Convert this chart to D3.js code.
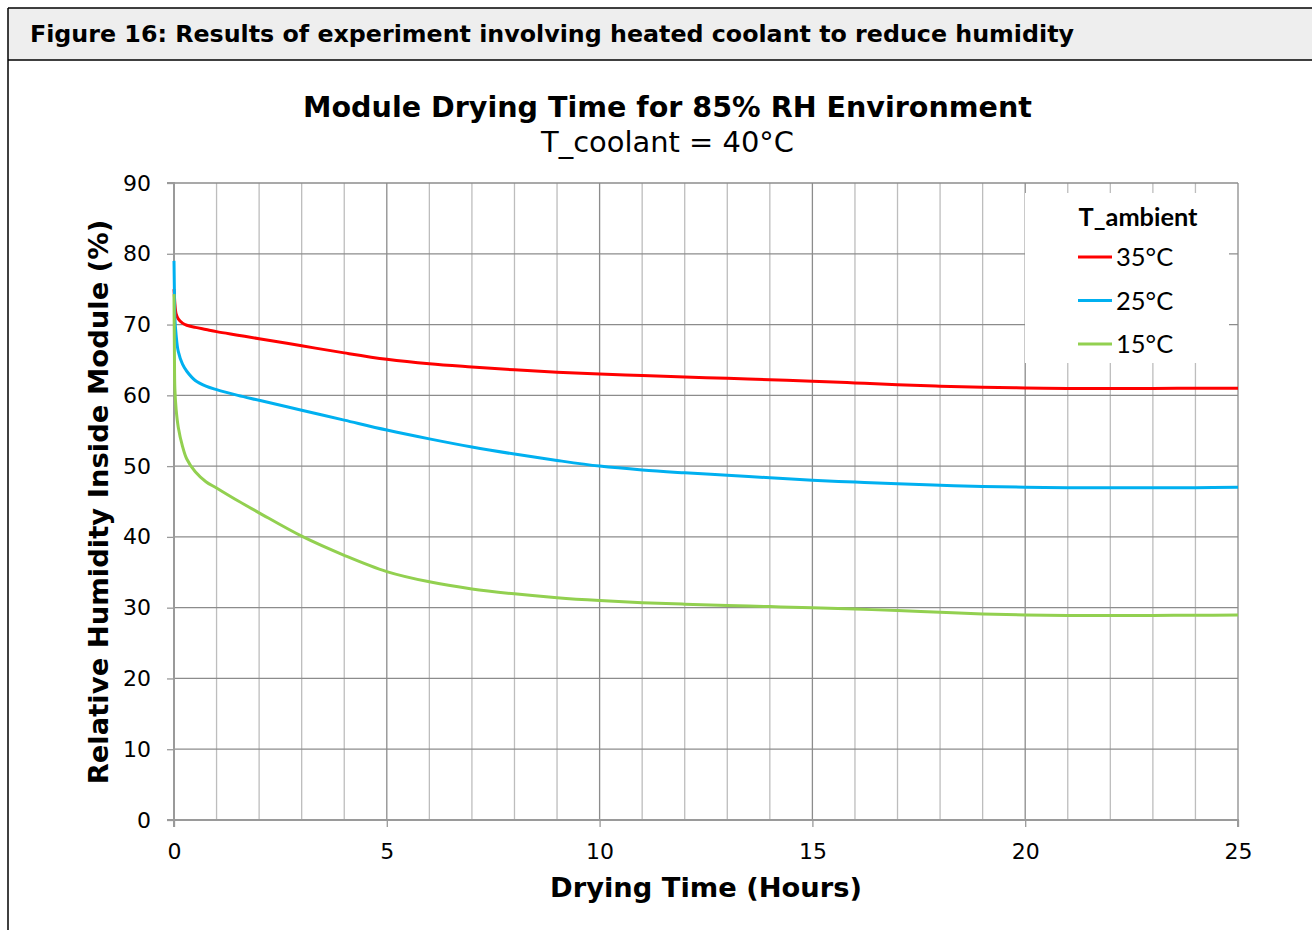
<!DOCTYPE html>
<html>
<head>
<meta charset="utf-8">
<title>Module Drying Time</title>
<script src="https://d3js.org/d3.v7.min.js"></script>
<style>
  body { margin: 0; background: #fff; }
  svg { display: block; }
</style>
</head>
<body>
<div id="chart"></div>
<script>
// data
var hours = [0, 0.01, 0.02, 0.05, 0.1, 0.2, 0.3, 0.5, 0.75, 1, 1.5, 2, 3, 4, 5, 6, 7, 8, 9, 10,
             11, 12, 13, 14, 15, 16, 17, 18, 19, 20, 21, 22, 23, 24, 25];
var rh35 = [75, 74, 73, 71.5, 70.8, 70.2, 69.9, 69.6, 69.3, 69.0, 68.5, 68.0, 67.0, 66.0, 65.1, 64.45, 64.0, 63.6, 63.25, 63.0,
            62.8, 62.6, 62.4, 62.2, 62.0, 61.75, 61.5, 61.3, 61.15, 61.05, 60.97, 60.95, 60.98, 61.0, 61.0];
var rh25 = [79, 74.5, 71, 68.5, 66.2, 64.4, 63.4, 62.1, 61.3, 60.8, 60.0, 59.3, 57.9, 56.5, 55.1, 53.85, 52.7, 51.7, 50.8, 50.0,
            49.45, 49.05, 48.7, 48.35, 48.0, 47.75, 47.5, 47.3, 47.12, 47.02, 46.96, 46.95, 46.95, 46.96, 47.0];
var rh15 = [74.3, 66, 61, 58, 55.5, 52.8, 51.0, 49.2, 47.8, 46.9, 45.1, 43.4, 40.1, 37.4, 35.1, 33.65, 32.65, 31.95, 31.4, 31.0,
            30.7, 30.5, 30.32, 30.15, 30.0, 29.8, 29.6, 29.35, 29.12, 28.97, 28.9, 28.9, 28.9, 28.93, 28.95];
var seriesNames = ["35°C", "25°C", "15°C"];
var seriesColors = ["#ff0000", "#00b0f0", "#92d050"];
var xTicks = [0, 5, 10, 15, 20, 25];
var yTicks = [0, 10, 20, 30, 40, 50, 60, 70, 80, 90];

var W = 1312, H = 930;
var svg = d3.select("#chart").append("svg")
    .attr("width", W).attr("height", H);

// scale a text's font size so it spans the given width
function fit(sel, target) {
  var fs = parseFloat(sel.attr("font-size"));
  var w = sel.node().getComputedTextLength();
  sel.attr("font-size", (fs * target / w).toFixed(2));
}

// figure caption band
svg.append("rect").attr("x", 8).attr("y", 8).attr("width", W).attr("height", 52)
    .attr("fill", "#eeeeee");
svg.append("line").attr("x1", 8).attr("x2", W).attr("y1", 8).attr("y2", 8)
    .attr("stroke", "#000").attr("stroke-width", 1.5);
svg.append("line").attr("x1", 8).attr("x2", W).attr("y1", 60).attr("y2", 60)
    .attr("stroke", "#000").attr("stroke-width", 1.5);
svg.append("line").attr("x1", 8).attr("x2", 8).attr("y1", 8).attr("y2", H)
    .attr("stroke", "#000").attr("stroke-width", 1.5);

var cap = svg.append("text").attr("x", 30).attr("y", 42)
    .attr("font-family", "DejaVu Sans").attr("font-weight", "bold").attr("font-size", 20)
    .text("Figure 16: Results of experiment involving heated coolant to reduce humidity");
fit(cap, 1044);

var x = d3.scaleLinear().domain([0, 25]).range([174, 1238]);
var y = d3.scaleLinear().domain([0, 90]).range([820, 183]);

// grid
var g = svg.append("g");
g.selectAll(".vminor").data(d3.range(1, 26)).enter().append("line")
    .attr("x1", function(d) { return x(d); }).attr("x2", function(d) { return x(d); })
    .attr("y1", y(0)).attr("y2", y(90))
    .attr("stroke", function(d) { return d % 5 === 0 ? "#8c8c8c" : "#bdbdbd"; })
    .attr("stroke-width", 1.3);
g.selectAll(".hgrid").data(yTicks.slice(1)).enter().append("line")
    .attr("x1", x(0)).attr("x2", x(25))
    .attr("y1", function(d) { return y(d); }).attr("y2", function(d) { return y(d); })
    .attr("stroke", "#8c8c8c").attr("stroke-width", 1.3);

// axes
var xAxis = svg.append("g").attr("transform", "translate(0," + y(0) + ")")
    .call(d3.axisBottom(x).tickValues(xTicks).tickSize(7).tickPadding(16));
var yAxis = svg.append("g").attr("transform", "translate(" + x(0) + ",0)")
    .call(d3.axisLeft(y).tickValues(yTicks).tickSize(7).tickPadding(16));
[xAxis, yAxis].forEach(function(a) {
  a.select(".domain").attr("stroke", "#9a9a9a").attr("stroke-width", 2);
  a.selectAll(".tick line").attr("stroke", "#9a9a9a").attr("stroke-width", 1.3);
  a.selectAll("text").attr("font-family", "DejaVu Sans").attr("font-size", 22)
      .attr("fill", "#000");
});
yAxis.select(".domain").attr("d", "M-7," + y(0) + "H0V" + y(90) + "H-7");
xAxis.select(".domain").attr("d", "M0,7V0H" + (x(25) - x(0)) + "V7")
    .attr("transform", "translate(" + x(0) + ",0)");

// series
var allSeries = [rh35, rh25, rh15];
var line = d3.line()
    .x(function(d, i) { return x(hours[i]); })
    .y(function(d) { return y(d); })
    .curve(d3.curveCatmullRom.alpha(0.5));
svg.selectAll(".series").data(allSeries).enter().append("path")
    .attr("d", line)
    .attr("fill", "none")
    .attr("stroke", function(d, i) { return seriesColors[i]; })
    .attr("stroke-width", 3)
    .attr("stroke-linejoin", "round");

// legend
svg.append("rect").attr("x", 1025).attr("y", 193).attr("width", 204).attr("height", 170)
    .attr("fill", "#fff");
var lt = svg.append("text").attr("x", 1138).attr("y", 226).attr("text-anchor", "middle")
    .attr("font-family", "Lato").attr("font-weight", "bold").attr("font-size", 24)
    .text("T_ambient");
fit(lt, 119);
var leg = svg.selectAll(".leg").data(seriesNames).enter().append("g")
    .attr("transform", function(d, i) { return "translate(0," + (257 + i * 43.5) + ")"; });
leg.append("line").attr("x1", 1078).attr("x2", 1112)
    .attr("stroke", function(d, i) { return seriesColors[i]; }).attr("stroke-width", 3);
leg.append("text").attr("x", 1116).attr("y", 9)
    .attr("font-family", "Lato").attr("font-size", 25.5)
    .text(function(d) { return d; });

// titles
var t1 = svg.append("text").attr("x", 667.5).attr("y", 117).attr("text-anchor", "middle")
    .attr("font-family", "DejaVu Sans").attr("font-weight", "bold").attr("font-size", 27)
    .text("Module Drying Time for 85% RH Environment");
fit(t1, 729);
var t2 = svg.append("text").attr("x", 667.5).attr("y", 152).attr("text-anchor", "middle")
    .attr("font-family", "DejaVu Sans").attr("font-size", 27)
    .text("T_coolant = 40°C");
fit(t2, 253);
var xl = svg.append("text").attr("x", 706).attr("y", 897).attr("text-anchor", "middle")
    .attr("font-family", "DejaVu Sans").attr("font-weight", "bold").attr("font-size", 26)
    .text("Drying Time (Hours)");
fit(xl, 312);
var yl = svg.append("text").attr("transform", "translate(108,502) rotate(-90)")
    .attr("text-anchor", "middle")
    .attr("font-family", "DejaVu Sans").attr("font-weight", "bold").attr("font-size", 26)
    .text("Relative Humidity Inside Module (%)");
fit(yl, 565);
</script>
</body>
</html>
